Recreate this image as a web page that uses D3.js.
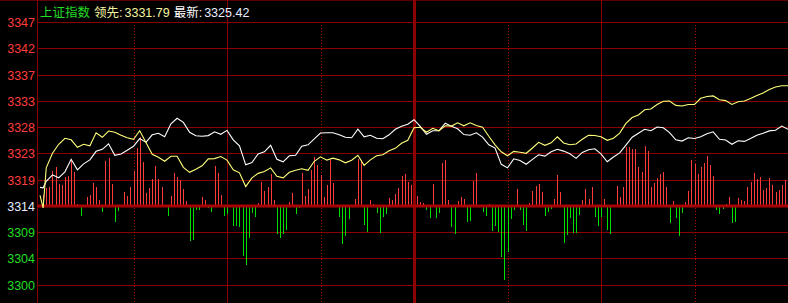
<!DOCTYPE html>
<html>
<head>
<meta charset="utf-8">
<style>
    body { margin: 0; background: #000; }
    svg { display: block; }
    text { font-family: "Liberation Sans", Arial, "Noto Sans CJK SC", sans-serif; }
    .grid { stroke: #8c0000; stroke-width: 1px; shape-rendering: crispEdges; }
</style>
<script src="https://d3js.org/d3.v7.min.js"></script>
</head>
<body>
<script>
    const width = 788, height = 303;

    // price axis: previous close and label step
    const preClose = 3314.35, priceStep = 4.69;
    const tickSteps = [-3, -2, -1, 0, 1, 2, 3, 4, 5, 6, 7];

    // half-hour marks (minutes from 9:30), and their line style
    const timeMarks = [30, 60, 90, 120, 150, 180, 210];
    const timeStyles = ['dot', 'solid', 'dot', 'thick', 'dot', 'solid', 'dot'];

    // sample minutes of the two lines
    const sampleMinutes = [0, 1].concat(d3.range(2, 241, 2));

    // 上证指数 (white)
    const indexLine = [
        3317.66, 3317.57, 3318.73, 3319.89, 3319.36, 3320.43, 3322.66, 3320.79, 3321.86, 3322.57,
        3324.09, 3324.45, 3325.44, 3323.38, 3323.61, 3324.27, 3324.99, 3326.37, 3325.69, 3327.04,
        3327.31, 3326.69, 3329.01, 3330.00, 3329.26, 3327.49, 3326.87, 3326.78, 3326.90, 3327.58,
        3327.13, 3327.83, 3326.15, 3325.08, 3321.68, 3322.09, 3323.63, 3324.01, 3325.17, 3322.66,
        3322.22, 3323.29, 3323.38, 3324.99, 3325.26, 3326.33, 3327.35, 3327.40, 3327.40, 3327.04,
        3326.60, 3326.51, 3328.03, 3326.69, 3326.96, 3326.42, 3326.33, 3327.04, 3328.03, 3328.56,
        3328.92, 3329.73, 3328.53, 3327.13, 3327.76, 3327.76, 3329.10, 3328.56, 3328.12, 3327.08,
        3326.96, 3327.40, 3326.63, 3325.26, 3324.68, 3321.77, 3321.14, 3322.75, 3322.45, 3321.79,
        3322.66, 3323.47, 3323.24, 3324.01, 3324.45, 3324.13, 3323.65, 3322.84, 3323.90, 3324.36,
        3324.54, 3323.65, 3322.22, 3323.08, 3323.81, 3325.20, 3326.60, 3327.31, 3328.03, 3327.76,
        3328.44, 3328.30, 3327.44, 3326.15, 3325.92, 3326.51, 3326.38, 3326.69, 3327.22, 3327.58,
        3326.24, 3326.12, 3325.35, 3325.97, 3325.86, 3326.37, 3326.96, 3327.33, 3327.74, 3327.85,
        3328.60, 3328.03
    ];

    // 领先 (yellow)
    const leadLine = [
        3316.23, 3313.99, 3321.14, 3323.74, 3325.35, 3326.42, 3326.15, 3324.81, 3325.35, 3325.08,
        3327.40, 3326.60, 3327.71, 3327.49, 3326.96, 3326.51, 3326.24, 3327.76, 3325.67, 3323.56,
        3323.02, 3322.31, 3323.20, 3323.20, 3321.23, 3320.34, 3320.88, 3321.50, 3322.75, 3322.79,
        3323.15, 3322.52, 3320.79, 3320.25, 3317.80, 3319.36, 3320.16, 3320.48, 3321.14, 3319.62,
        3319.36, 3320.34, 3320.70, 3320.97, 3320.70, 3322.31, 3323.11, 3322.52, 3322.88, 3322.57,
        3322.04, 3322.49, 3323.38, 3321.59, 3322.57, 3323.29, 3323.47, 3324.18, 3324.63, 3325.53,
        3326.06, 3328.30, 3328.39, 3327.49, 3328.21, 3327.76, 3328.65, 3328.60, 3329.19, 3328.65,
        3329.19, 3328.69, 3328.39, 3326.78, 3325.26, 3324.01, 3323.29, 3324.09, 3323.92, 3323.74,
        3324.68, 3325.70, 3325.17, 3325.61, 3326.69, 3325.58, 3325.26, 3325.40, 3326.24, 3326.96,
        3326.92, 3326.69, 3326.06, 3326.42, 3327.35, 3329.08, 3330.12, 3330.59, 3331.51, 3331.64,
        3332.46, 3333.02, 3333.07, 3332.30, 3332.19, 3332.46, 3332.48, 3333.57, 3333.89, 3333.98,
        3333.29, 3333.14, 3332.46, 3332.95, 3333.09, 3333.52, 3334.04, 3334.52, 3335.13, 3335.59,
        3335.81, 3335.81
    ];

    // red/green strength bars, one per minute 0..240
    const barValues = [
        0, 11, 18, 19, 35, 39, 22, 21, 29, 30,
        46, 34, 2, -10, -1, 9, 11, 23, 19, 6,
        -6, 45, 48, 22, -16, -5, -1, 14, 10, 19,
        35, 58, 69, 44, 13, 18, 27, 40, 27, 19,
        -1, -10, 10, 33, 29, 26, 17, 5, -35, -34,
        -4, -4, 9, 6, -2, -6, 40, 33, 11, -10,
        -8, 1, -20, -20, -21, -50, -59, -32, -7, -11,
        3, 24, 15, 19, 32, 6, -28, -32, -28, -24,
        4, 13, -8, -2, 33, 10, 17, 36, 49, 41,
        31, 9, 21, 46, 23, -1, -11, -38, -30, -13,
        1, 7, 47, 46, -19, -26, 6, 2, -7, -27,
        -11, -8, 8, 6, 12, 18, 30, 32, 24, 21,
        0, 10, 4, 3, -4, -12, 22, -12, -7, 43,
        46, 6, -21, -28, 5, 9, 7, -16, -15, 25,
        33, 1, -6, -10, 2, -25, -20, -26, -51, -74,
        -46, -13, -4, 17, -4, -19, -25, 3, 15, 20,
        22, 14, -10, -6, -3, 7, 31, 14, -37, -29,
        -12, -27, -27, -9, 6, 17, 7, 19, -11, -20,
        -11, 7, -24, -28, 1, 20, 9, 19, 59, 59,
        57, 57, 39, 34, 60, 55, 19, 23, 28, 32,
        34, 19, -17, 5, -12, -30, -7, 4, 15, 46,
        42, 32, 39, 43, 50, 41, 30, -4, -8, -3,
        2, 9, -17, -16, 8, 6, 5, 19, 24, 33,
        27, 29, 16, 18, 28, 21, 14, 16, 21, 26,
        0
    ];

    const titleName = '上证指数';
    const leadLabel = '领先:', leadValue = '3331.79';
    const lastLabel = '最新:', lastValue = '3325.42';

    const axisX = 37.5, plotTop = 22, plotBottom = 284.7;

    const x = d3.scaleLinear().domain([0, 240]).range([40, width]);
    const y = d3.scaleLinear()
        .domain([preClose + tickSteps[0] * priceStep, preClose + tickSteps[tickSteps.length - 1] * priceStep])
        .range([plotBottom, plotTop]);
    const baseY = y(preClose);
    const barY = d3.scaleLinear().domain([-100, 100]).range([baseY + 100, baseY - 100]);

    const svg = d3.select('body').append('svg')
        .attr('width', width)
        .attr('height', height);

    svg.append('rect').attr('width', width).attr('height', height).attr('fill', '#000');

    // top strip
    svg.append('line').attr('class', 'grid')
        .attr('x1', 0).attr('x2', width).attr('y1', 0.5).attr('y2', 0.5)
        .style('stroke', '#5a0000');

    // horizontal grid
    const ticks = tickSteps.map(k => preClose + k * priceStep);
    svg.selectAll('line.hgrid')
        .data(ticks.filter(t => t !== preClose))
        .enter().append('line')
        .attr('class', 'grid hgrid')
        .attr('x1', axisX).attr('x2', width)
        .attr('y1', d => Math.round(y(d)) + 0.5)
        .attr('y2', d => Math.round(y(d)) + 0.5);

    // vertical time lines
    timeMarks.forEach((m, i) => {
        const st = timeStyles[i];
        const xx = Math.round(x(m)) + 0.5;
        const ln = svg.append('line')
            .attr('x1', xx).attr('x2', xx)
            .attr('y1', st === 'dot' ? plotTop : 0).attr('y2', height)
            .style('stroke', '#8c0000')
            .style('shape-rendering', 'crispEdges');
        if (st === 'dot') ln.style('stroke-dasharray', '1,2').style('stroke', '#a80000');
        if (st === 'thick') ln.style('stroke-width', 3);
    });

    // left axis line
    svg.append('line').attr('class', 'grid')
        .attr('x1', axisX).attr('x2', axisX).attr('y1', 0).attr('y2', height);

    // bars
    svg.selectAll('line.bar')
        .data(barValues.map((v, i) => ({ m: i, v: v })).filter(d => d.v !== 0))
        .enter().append('line')
        .attr('class', 'bar')
        .attr('x1', d => Math.round(x(d.m)) + 0.5)
        .attr('x2', d => Math.round(x(d.m)) + 0.5)
        .attr('y1', baseY)
        .attr('y2', d => barY(d.v))
        .style('stroke', d => d.v > 0 ? '#ff3b3b' : '#00e000')
        .style('stroke-width', 1)
        .style('shape-rendering', 'crispEdges');

    // base line (previous close)
    svg.append('line')
        .attr('x1', axisX).attr('x2', width)
        .attr('y1', baseY).attr('y2', baseY)
        .style('stroke', '#a80000')
        .style('stroke-width', 3);

    // price lines
    const line = d3.line()
        .x(d => x(d[0]))
        .y(d => y(d[1]));

    svg.append('path')
        .datum(sampleMinutes.map((m, i) => [m, indexLine[i]]))
        .attr('d', line)
        .attr('fill', 'none')
        .attr('stroke', '#ffffff')
        .attr('stroke-width', 1.1);

    svg.append('path')
        .datum(sampleMinutes.map((m, i) => [m, leadLine[i]]))
        .attr('d', line)
        .attr('fill', 'none')
        .attr('stroke', '#ffff7a')
        .attr('stroke-width', 1.1);

    // tick labels
    svg.selectAll('text.tick')
        .data(ticks)
        .enter().append('text')
        .attr('class', 'tick')
        .attr('x', 35)
        .attr('y', d => y(d) + 5)
        .attr('text-anchor', 'end')
        .style('font-size', '12.5px')
        .style('fill', d => d > preClose + 0.01 ? '#ff3c3c' : (d < preClose - 0.01 ? '#22dd22' : '#e6eeff'))
        .text(d => Math.floor(d));

    // header
    const title = svg.append('text')
        .attr('x', 40).attr('y', 17)
        .style('font-size', '12.5px');
    title.append('tspan').style('fill', '#22dd22').text(titleName);
    title.append('tspan').attr('dx', 4).style('fill', '#f5f5a0').text(leadLabel);
    title.append('tspan').attr('dx', 2).style('fill', '#f5f5a0').text(leadValue);
    title.append('tspan').attr('dx', 4).style('fill', '#ffffff').text(lastLabel);
    title.append('tspan').attr('dx', 2).style('fill', '#e6eeff').text(lastValue);
</script>
</body>
</html>
